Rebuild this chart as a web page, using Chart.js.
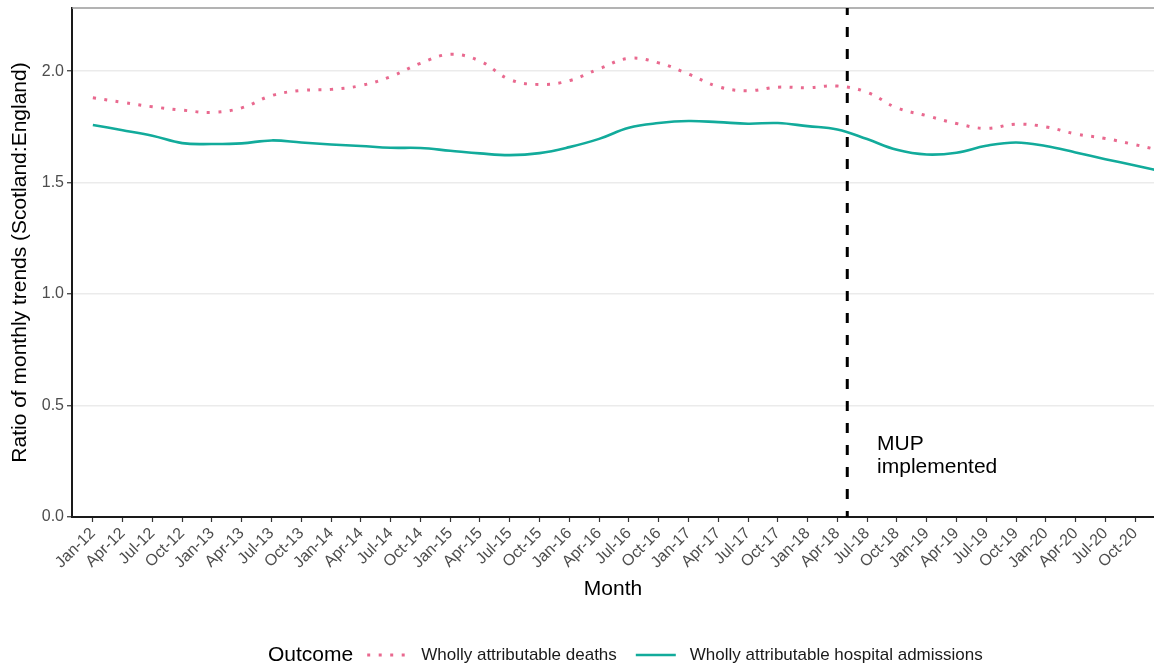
<!DOCTYPE html>
<html>
<head>
<meta charset="utf-8">
<script src="https://cdn.jsdelivr.net/npm/chart.js@4.4.1/dist/chart.umd.min.js"></script>
<style>
  html, body { margin: 0; padding: 0; background: #fff; }
</style>
</head>
<body>
<canvas id="ratioChart" width="1154" height="665"></canvas>
<script>
// Quarterly tick labels on the x axis
var tickLabels = [
    'Jan-12', 'Apr-12', 'Jul-12', 'Oct-12', 'Jan-13', 'Apr-13', 'Jul-13', 'Oct-13',
    'Jan-14', 'Apr-14', 'Jul-14', 'Oct-14', 'Jan-15', 'Apr-15', 'Jul-15', 'Oct-15',
    'Jan-16', 'Apr-16', 'Jul-16', 'Oct-16', 'Jan-17', 'Apr-17', 'Jul-17', 'Oct-17',
    'Jan-18', 'Apr-18', 'Jul-18', 'Oct-18', 'Jan-19', 'Apr-19', 'Jul-19', 'Oct-19',
    'Jan-20', 'Apr-20', 'Jul-20', 'Oct-20'
];

// Months at which the trend values were read
var pointMonths = tickLabels.concat(['Dec-20']);

var deaths = [
    1.88, 1.86, 1.84, 1.825, 1.815, 1.835, 1.89, 1.913,
    1.918, 1.935, 1.975, 2.035, 2.075, 2.045, 1.962, 1.94,
    1.957, 2.01, 2.057, 2.037, 1.987, 1.93, 1.912, 1.928,
    1.925, 1.933, 1.905, 1.835, 1.80, 1.765, 1.743, 1.762,
    1.75, 1.718, 1.698, 1.67, 1.65
];

var admissions = [
    1.758, 1.735, 1.71, 1.677, 1.673, 1.676, 1.689, 1.68,
    1.671, 1.664, 1.656, 1.655, 1.643, 1.631, 1.623, 1.632,
    1.659, 1.696, 1.746, 1.767, 1.776, 1.771, 1.764, 1.767,
    1.753, 1.738, 1.695, 1.647, 1.626, 1.634, 1.665, 1.68,
    1.664, 1.635, 1.605, 1.577, 1.557
];

var yTicks = [0, 0.5, 1.0, 1.5, 2.0];
var mupMonth = 'May-18';
var seriesNames = ['Wholly attributable deaths', 'Wholly attributable hospital admissions'];

var monthNames = ['Jan', 'Feb', 'Mar', 'Apr', 'May', 'Jun', 'Jul', 'Aug', 'Sep', 'Oct', 'Nov', 'Dec'];
function monthIndex(label) {
    return monthNames.indexOf(label.slice(0, 3)) + (parseInt(label.slice(4), 10) - 12) * 12;
}

var labelFor = {};
tickLabels.forEach(function (l) { labelFor[monthIndex(l)] = l; });

function toPoints(values) {
    return values.map(function (v, i) { return { x: monthIndex(pointMonths[i]), y: v }; });
}

var FONT = '"Liberation Sans", Arial, sans-serif';
var PINK = '#E9698F';
var TEAL = '#12AB9B';

// grey top border, MUP marker line and text, bottom legend
var extras = {
    id: 'extras',
    beforeDatasetsDraw: function (chart) {
        var ctx = chart.ctx, a = chart.chartArea;
        ctx.save();
        ctx.strokeStyle = '#9a9a9a';
        ctx.lineWidth = 1.5;
        ctx.beginPath();
        ctx.moveTo(a.left, a.top);
        ctx.lineTo(a.right, a.top);
        ctx.stroke();
        ctx.restore();
    },
    afterDatasetsDraw: function (chart) {
        var ctx = chart.ctx, a = chart.chartArea;
        var x = chart.scales.x, y = chart.scales.y;
        var px = x.getPixelForValue(monthIndex(mupMonth));
        ctx.save();
        ctx.strokeStyle = '#000';
        ctx.lineWidth = 3;
        ctx.setLineDash([10, 12]);
        ctx.lineDashOffset = 3;
        ctx.beginPath();
        ctx.moveTo(px, a.top);
        ctx.lineTo(px, a.bottom);
        ctx.stroke();
        ctx.setLineDash([]);

        ctx.fillStyle = '#000';
        ctx.font = '21px ' + FONT;
        ctx.textAlign = 'left';
        ctx.textBaseline = 'middle';
        var tx = x.getPixelForValue(monthIndex(mupMonth) + 3);
        var ty = y.getPixelForValue(0.275);
        ctx.fillText('MUP', tx, ty - 11.5);
        ctx.fillText('implemented', tx, ty + 11.5);
        ctx.restore();
    },
    afterDraw: function (chart) {
        var ctx = chart.ctx;
        var ds = chart.data.datasets;
        var ly = 655;
        var lx = 268;
        ctx.save();
        ctx.textBaseline = 'middle';
        ctx.textAlign = 'left';
        ctx.fillStyle = '#000';
        ctx.font = '21px ' + FONT;
        ctx.fillText('Outcome', lx, ly);
        lx += ctx.measureText('Outcome').width + 14;
        ds.forEach(function (d) {
            ctx.strokeStyle = d.borderColor;
            ctx.lineWidth = d.borderWidth;
            ctx.setLineDash(d.borderDash || []);
            ctx.lineCap = 'butt';
            ctx.beginPath();
            ctx.moveTo(lx, ly);
            ctx.lineTo(lx + 40, ly);
            ctx.stroke();
            ctx.setLineDash([]);
            lx += 54;
            ctx.fillStyle = '#1a1a1a';
            ctx.font = '17px ' + FONT;
            ctx.fillText(d.label, lx, ly);
            lx += ctx.measureText(d.label).width + 19;
        });
        ctx.restore();
    }
};

var ctx = document.getElementById('ratioChart').getContext('2d');
var ratioChart = new Chart(ctx, {
    type: 'line',
    data: {
        datasets: [{
            label: seriesNames[0],
            data: toPoints(deaths),
            borderColor: PINK,
            borderWidth: 3,
            borderDash: [3, 8.5],
            pointRadius: 0,
            tension: 0.4,
            fill: false
        }, {
            label: seriesNames[1],
            data: toPoints(admissions),
            borderColor: TEAL,
            borderWidth: 2.6,
            pointRadius: 0,
            tension: 0.4,
            fill: false
        }]
    },
    options: {
        responsive: false,
        animation: false,
        layout: {
            padding: { top: 8, right: 0, bottom: 48, left: 0 }
        },
        plugins: {
            legend: { display: false },
            tooltip: { enabled: false }
        },
        scales: {
            x: {
                type: 'linear',
                min: -2.1,
                max: 106.9,
                afterBuildTicks: function (scale) {
                    scale.ticks = tickLabels.map(function (l) { return { value: monthIndex(l) }; });
                },
                afterFit: function (scale) { scale.height = 100; },
                grid: {
                    drawOnChartArea: false,
                    drawTicks: true,
                    tickLength: 5,
                    tickColor: '#333',
                    tickWidth: 1.2
                },
                border: { display: true, color: '#1a1a1a', width: 2 },
                ticks: {
                    autoSkip: false,
                    minRotation: 45,
                    maxRotation: 45,
                    padding: 2,
                    color: '#4d4d4d',
                    font: { family: FONT, size: 16 },
                    callback: function (v) { return labelFor[v]; }
                },
                title: {
                    display: true,
                    text: 'Month',
                    color: '#000',
                    font: { family: FONT, size: 21 },
                    padding: { top: 2, bottom: 15 }
                }
            },
            y: {
                min: 0,
                max: 2.283,
                afterBuildTicks: function (scale) {
                    scale.ticks = yTicks.map(function (v) { return { value: v }; });
                },
                afterFit: function (scale) {
                    scale.width = 72;
                    scale.paddingTop = 0;
                    scale.paddingBottom = 0;
                },
                grid: {
                    color: '#ebebeb',
                    lineWidth: 1.5,
                    drawTicks: true,
                    tickLength: 5,
                    tickColor: '#333',
                    tickWidth: 1.2
                },
                border: { display: true, color: '#1a1a1a', width: 2 },
                ticks: {
                    padding: 3,
                    color: '#4d4d4d',
                    font: { family: FONT, size: 16 },
                    callback: function (v) { return v.toFixed(1); }
                },
                title: {
                    display: true,
                    text: 'Ratio of monthly trends (Scotland:England)',
                    color: '#000',
                    font: { family: FONT, size: 21 },
                    padding: { top: 8, bottom: 8 }
                }
            }
        }
    },
    plugins: [extras]
});
</script>
</body>
</html>
